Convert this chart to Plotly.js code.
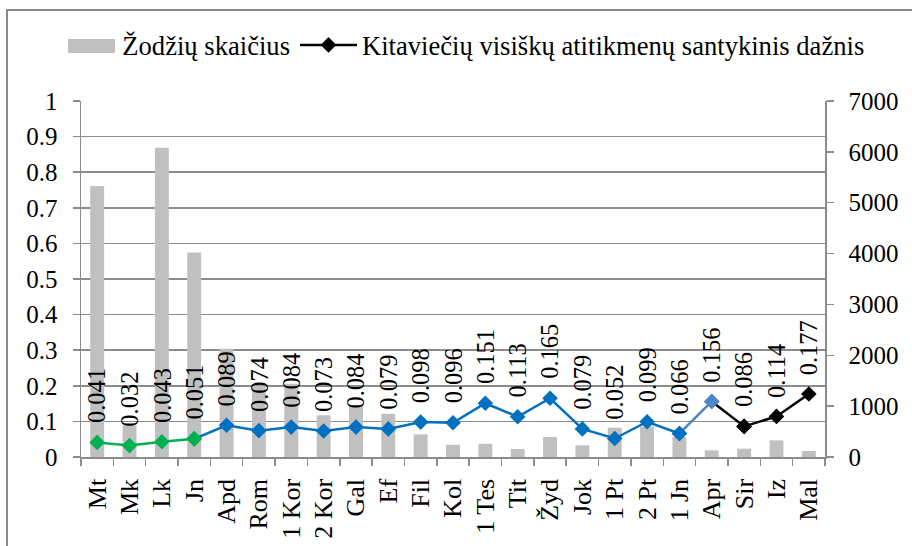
<!DOCTYPE html>
<html>
<head>
<meta charset="utf-8">
<script src="https://cdn.plot.ly/plotly-3.0.1.min.js"></script>
<style>
  html, body { margin: 0; padding: 0; background: #ffffff; }
  #wrap { position: relative; width: 912px; height: 546px; overflow: hidden; }
  #chart { width: 912px; height: 546px; }
  #frame { position: absolute; left: 6px; top: 9px; width: 920px; height: 600px;
           border: 2px solid #8c8c8c; pointer-events: none; }
</style>
</head>
<body>
<div id="wrap">
  <div id="chart"></div>
  <div id="frame"></div>
</div>
<script>
// Books (categories)
const books = ["Mt", "Mk", "Lk", "Jn", "Apd", "Rom", "1 Kor", "2 Kor", "Gal", "Ef", "Fil", "Kol",
               "1 Tes", "Tit", "Žyd", "Jok", "1 Pt", "2 Pt", "1 Jn", "Apr", "Sir", "Iz", "Mal"];
// Word counts (right axis)
const wordCounts = [5330, 620, 6080, 4020, 2130, 1400, 1440, 820, 1010, 850, 445, 240,
                    260, 157, 393, 229, 576, 600, 393, 131, 164, 327, 118];
// Relative frequency of full foreign equivalents (left axis)
const relFreq = [0.041, 0.032, 0.043, 0.051, 0.089, 0.074, 0.084, 0.073, 0.084, 0.079, 0.098, 0.096,
                 0.151, 0.113, 0.165, 0.079, 0.052, 0.099, 0.066, 0.156, 0.086, 0.114, 0.177];
const leftTicks = [0, 0.1, 0.2, 0.3, 0.4, 0.5, 0.6, 0.7, 0.8, 0.9, 1];
const rightTicks = [0, 1000, 2000, 3000, 4000, 5000, 6000, 7000];

const barName = "Žodžių skaičius";
const lineName = "Kitaviečių visiškų atitikmenų santykinis dažnis";

const GREEN = "#00b050", BLUE = "#0070c0", LBLUE = "#4f86c6", BLACK = "#000000";
const BARGRAY = "#c0c0c0";
const FONT = "Liberation Serif";

function seg(a, b, lineColor, markerColors, name, showlegend) {
  return {
    type: "scatter", mode: "lines+markers",
    x: books.slice(a, b + 1), y: relFreq.slice(a, b + 1),
    yaxis: "y2",
    line: { color: lineColor, width: 2.5 },
    marker: { symbol: "diamond", size: 12, color: markerColors },
    name: name, showlegend: showlegend, hoverinfo: "x+y"
  };
}

const traces = [
  { type: "bar", x: books, y: wordCounts, yaxis: "y", name: barName,
    marker: { color: BARGRAY } },
  seg(0, 3, GREEN, GREEN, "", false),
  seg(3, 18, BLUE, books.slice(3, 19).map((b, i) => i === 0 ? GREEN : BLUE), "", false),
  seg(18, 19, LBLUE, [BLUE, LBLUE], "", false),
  seg(19, 20, BLACK, [LBLUE, BLACK], "", false),
  seg(20, 22, BLACK, BLACK, lineName, true)
];

const annotations = books.map((b, i) => ({
  x: b, y: relFreq[i], xref: "x", yref: "y2",
  text: relFreq[i].toFixed(3), showarrow: false,
  textangle: -90, xanchor: "center", yanchor: "bottom", yshift: 17,
  font: { family: FONT, size: 24.5, color: "#000" }
}));

function axisCommon() {
  return {
    showline: true, linecolor: "#8c8c8c", linewidth: 1.5,
    ticks: "outside", tickcolor: "#8c8c8c", ticklen: 7, tickwidth: 1.5,
    tickfont: { family: FONT, size: 25, color: "#000" }, zeroline: false
  };
}

const layout = {
  width: 912, height: 546,
  margin: { l: 81, r: 87, t: 101, b: 89 },
  paper_bgcolor: "#ffffff", plot_bgcolor: "#ffffff",
  font: { family: FONT, size: 25, color: "#000" },
  bargap: 0.57,
  showlegend: true,
  legend: { orientation: "h", x: -0.0345, xanchor: "left", y: 1.157, yanchor: "middle",
            itemwidth: 57,
            font: { family: FONT, size: 26.6, color: "#000" }, bgcolor: "rgba(0,0,0,0)",
            traceorder: "normal" },
  // widen the grey legend swatch of the bar series (Excel-style wide patch)
  shapes: [{
    type: "rect", xref: "paper", yref: "paper", layer: "below",
    x0: -0.0175, x1: 0.0457, y0: 1.135, y1: 1.174,
    fillcolor: BARGRAY, line: { width: 0 }
  }],
  xaxis: Object.assign(axisCommon(), {
    type: "category", tickangle: -90, tickson: "boundaries", showgrid: false,
    ticklabelstandoff: 10, range: [-0.5, books.length - 0.5],
    tickfont: { family: FONT, size: 26, color: "#000" }
  }),
  // primary axis: word counts on the right
  yaxis: Object.assign(axisCommon(), {
    side: "right", range: [0, 7000],
    tickmode: "array", tickvals: rightTicks, ticktext: rightTicks.map(String),
    showgrid: false, ticklabelstandoff: 10
  }),
  // overlaying axis: relative frequency on the left, with the gridlines
  yaxis2: Object.assign(axisCommon(), {
    overlaying: "y", side: "left", range: [0, 1],
    tickmode: "array", tickvals: leftTicks, ticktext: leftTicks.map(String),
    showgrid: true, gridcolor: "#8c8c8c", gridwidth: 1.5, ticklabelstandoff: 10
  }),
  annotations: annotations
};

Plotly.newPlot("chart", traces, layout, { displayModeBar: false, staticPlot: true });
</script>
</body>
</html>
